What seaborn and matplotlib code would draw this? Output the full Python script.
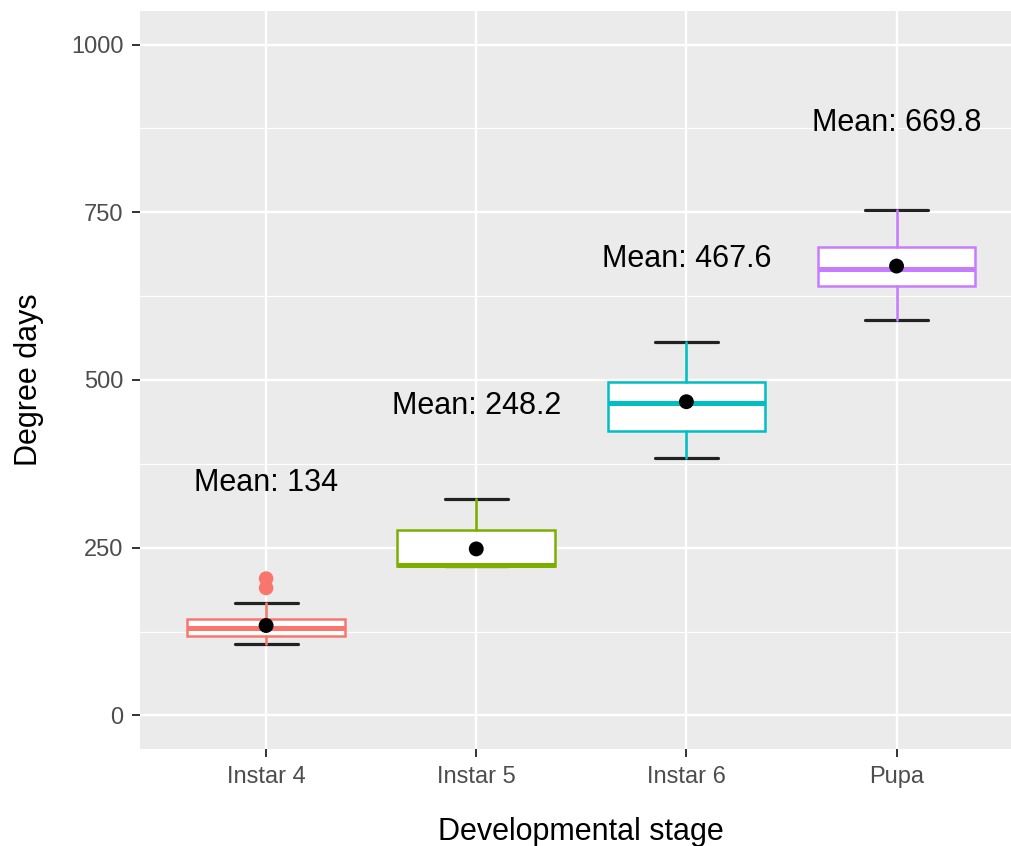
import matplotlib
matplotlib.use("Agg")
import matplotlib.pyplot as plt
from matplotlib.ticker import MultipleLocator
import seaborn as sns

# ---------- DATA ----------
stages = ["Instar 4", "Instar 5", "Instar 6", "Pupa"]
whisker_low = [107, 222, 383, 589]
q1 = [119, 222, 424, 640]
median = [131, 224, 466, 666]
q3 = [144, 276, 497, 698]
whisker_high = [168, 323, 556, 754]
means = [134, 248.2, 467.6, 669.8]
outliers = [[190, 204], [], [], []]
colors = ["#F8766D", "#7CAE00", "#00BFC4", "#C77CFF"]

LABEL_OFFSET = 213

# ---------- STYLE ----------
sns.set_theme(style="darkgrid", rc={
    "axes.facecolor": "#EBEBEB",
    "grid.color": "white",
})
plt.rcParams["font.family"] = ["Liberation Sans", "DejaVu Sans"]

fig = plt.figure(figsize=(10.11, 8.46), dpi=100)
ax = fig.add_axes([0.1385, 0.1147, 0.873, 0.8723])

positions = list(range(len(stages)))

# ---------- BOXES ----------
stats = []
for i, name in enumerate(stages):
    stats.append({
        "label": name,
        "whislo": whisker_low[i],
        "q1": q1[i],
        "med": median[i],
        "q3": q3[i],
        "whishi": whisker_high[i],
        "fliers": outliers[i],
    })

parts = ax.bxp(stats, positions=positions, widths=0.75, capwidths=0.3,
               showfliers=False, patch_artist=True, manage_ticks=False,
               boxprops=dict(linewidth=1.8, facecolor="white"),
               medianprops=dict(linewidth=3.6),
               whiskerprops=dict(linewidth=1.9),
               capprops=dict(color="#222222", linewidth=2.3))

for i, c in enumerate(colors):
    parts["boxes"][i].set_edgecolor(c)
    parts["medians"][i].set_color(c)
    for w in parts["whiskers"][2 * i:2 * i + 2]:
        w.set_color(c)
        w.set_zorder(3)
    # caps sit under the box, like the errorbar layer drawn first
    for cap in parts["caps"][2 * i:2 * i + 2]:
        cap.set_zorder(1.9)

# outliers
out_x = [i for i, vals in enumerate(outliers) for _ in vals]
out_y = [v for vals in outliers for v in vals]
sns.scatterplot(x=out_x, y=out_y, color=colors[0], s=110, edgecolor="none",
                ax=ax, zorder=4)

# means
sns.scatterplot(x=positions, y=means, color="black", s=115, edgecolor="none",
                ax=ax, zorder=5)

for i, m in enumerate(means):
    ax.text(i, m + LABEL_OFFSET, f"Mean: {m:g}", ha="center", va="center",
            fontsize=22, color="black")

# ---------- AXES ----------
ax.set_xlim(-0.6, 3.6)
ax.set_ylim(-50, 1050)
ax.set_xticks(positions)
ax.set_xticklabels(stages)
ax.set_yticks([0, 250, 500, 750, 1000])
ax.yaxis.set_minor_locator(MultipleLocator(125))
ax.grid(which="major", color="white", linewidth=1.7)
ax.grid(which="minor", color="white", linewidth=0.8)
ax.grid(which="minor", axis="x", visible=False)
ax.set_axisbelow(True)

ax.tick_params(which="major", bottom=True, left=True, length=6, width=1.4,
               color="#333333", labelsize=17, labelcolor="#4D4D4D", pad=6)
ax.tick_params(which="minor", length=0)
for s in ax.spines.values():
    s.set_visible(False)

ax.set_xlabel("Developmental stage", fontsize=22, labelpad=21, color="black")
ax.set_ylabel("Degree days", fontsize=22, labelpad=19, color="black")

fig.savefig("out.png", dpi=100)
